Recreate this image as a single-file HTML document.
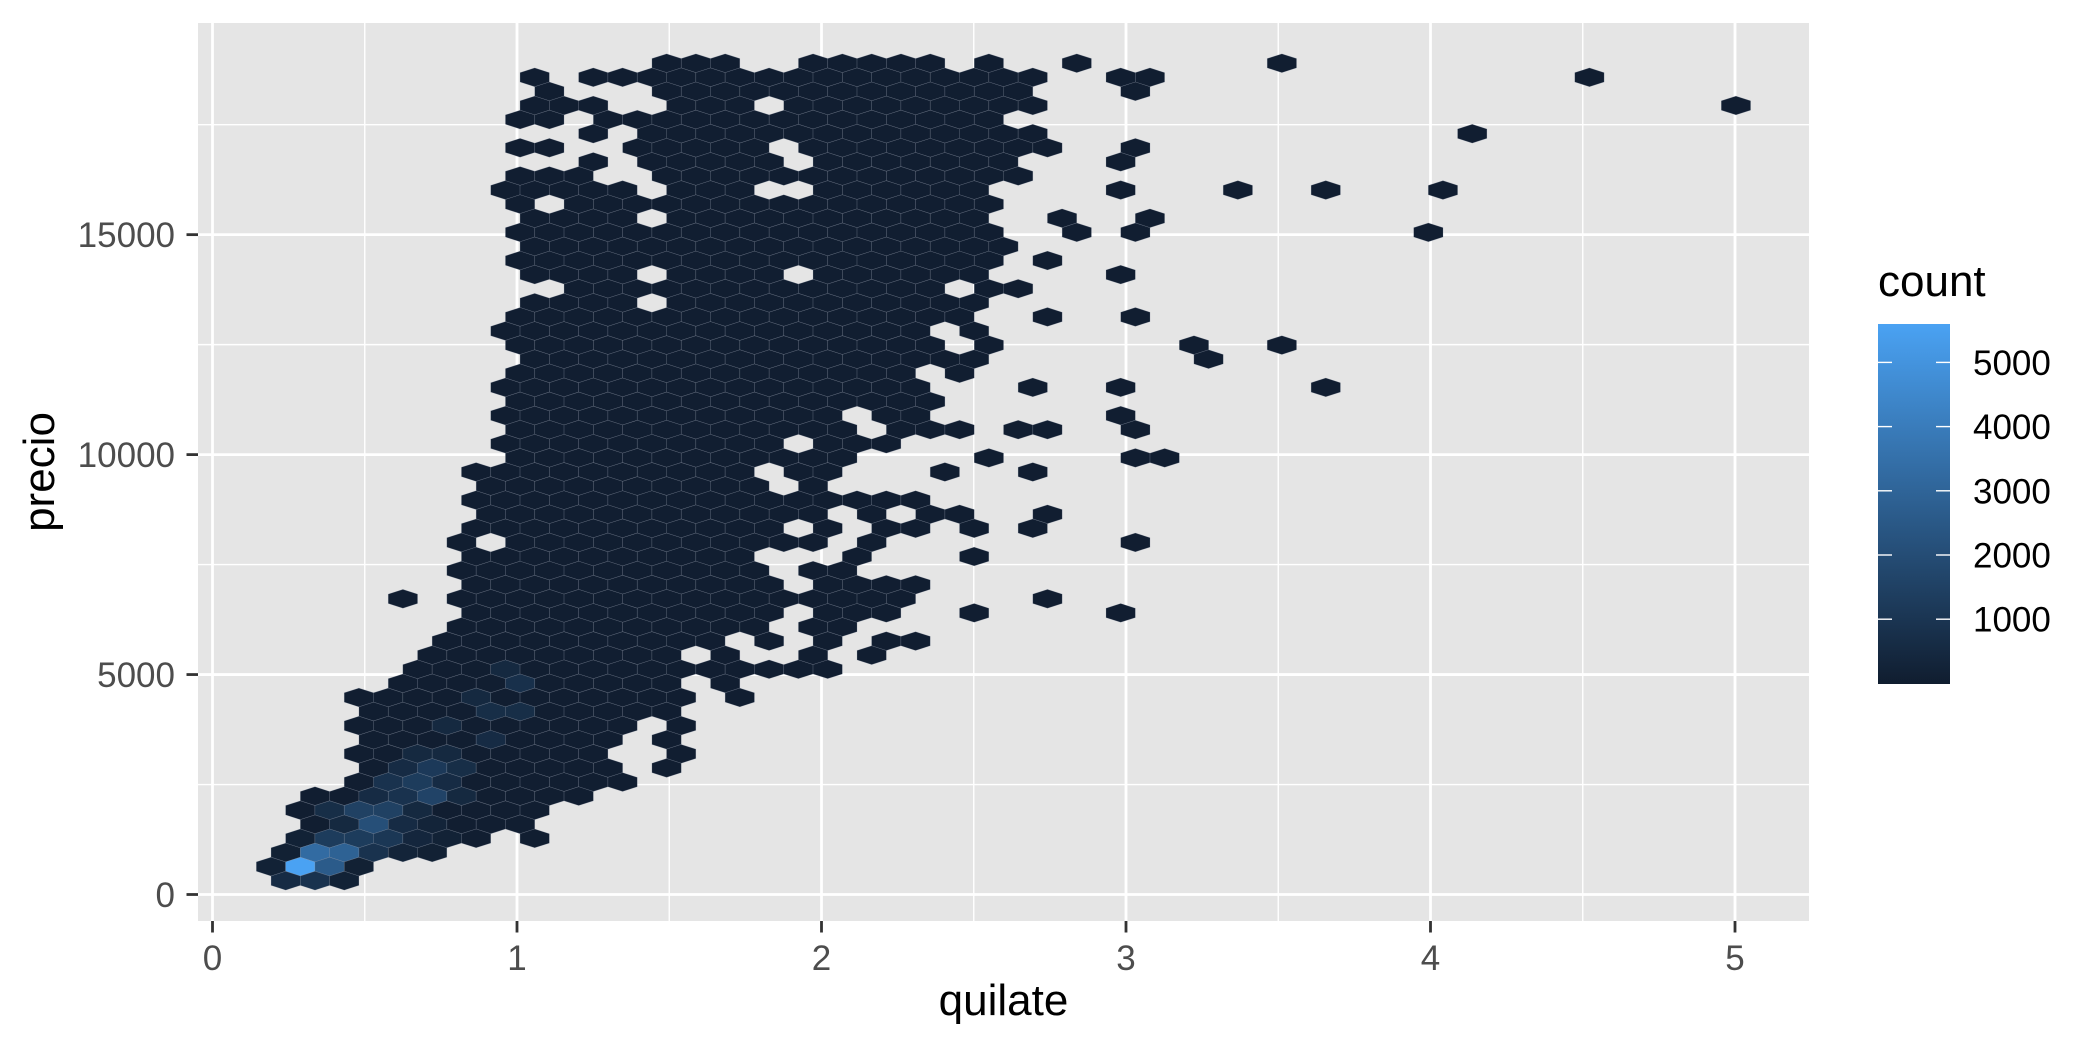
<!DOCTYPE html>
<html><head><meta charset="utf-8">
<style>
html,body{margin:0;padding:0;background:#fff;}
svg{display:block;font-family:"Liberation Sans",Arial,sans-serif;}
</style></head>
<body>
<svg id="chart" width="2100" height="1050" viewBox="0 0 2100 1050" xmlns="http://www.w3.org/2000/svg">
  <defs>
    <linearGradient id="legendGrad" x1="0" y1="1" x2="0" y2="0">
      <stop offset="0" stop-color="#101D2F"/>
      <stop offset="1" stop-color="#4AA2F3"/>
    </linearGradient>
  </defs>
  <rect x="198" y="23" width="1611" height="898" fill="#E5E5E5"/>
  <g id="grid"></g>
  <g id="hexes"></g>
  <g id="axes"></g>
  <text x="1003.5" y="1015" font-size="44" text-anchor="middle" fill="#000">quilate</text>
  <text transform="translate(54,472) rotate(-90)" font-size="44" text-anchor="middle" fill="#000">precio</text>
  <g id="legend">
    <text x="1878" y="296" font-size="44" fill="#000">count</text>
    <rect x="1878" y="324" width="72" height="360" fill="url(#legendGrad)"/>
  </g>
</svg>
<script>
// ---- data ----
const xTicks = [0, 1, 2, 3, 4, 5];
const xTickLabels = ["0", "1", "2", "3", "4", "5"];
const xMinor = [0.5, 1.5, 2.5, 3.5, 4.5];
const yTicks = [0, 5000, 10000, 15000];
const yTickLabels = ["0", "5000", "10000", "15000"];
const yMinor = [2500, 7500, 12500, 17500];
const legendTicks = [1000, 2000, 3000, 4000, 5000];
const legendTickLabels = ["1000", "2000", "3000", "4000", "5000"];
const countMin = 1;
const countMax = 5600;

// hex bin grid: row index j -> price, column k -> carat
const binW = 0.09622;
const binH = 320.4;
const caratOddStart = 0.1921;
const caratEvenStart = 0.2404;
const priceStart = 313.7;

const hexRowSpecs = [
"58:13-15,18-22,24,27,34",
"57:9,11-26,29,30,45",
"56:9,13-25,29",
"55:9-11,14-16,18-26,50",
"54:8,9,11-24",
"53:11,13-26,41",
"52:8,9,12-16,18-26,29",
"51:11,13-17,19-25,29",
"50:8-10,13-25",
"49:8-12,14-16,19-24,29,33,36,40",
"48:8,10-24",
"47:9-12,14-24,27,30",
"46:8-24,27,29,39",
"45:9-25",
"44:8-24,26",
"43:9-12,14-17,19-24,29",
"42:10-22,24,25",
"41:9-12,14-24",
"40:8-23,26,29",
"39:8-22,24",
"38:8-22,24,31,34",
"37:9-24,32",
"36:8-21,23",
"35:8-22,26,29,36",
"34:8-22",
"33:8-19,21,22,29",
"32:8-19,21-23,25,26,29",
"31:8-17,19-21",
"30:8-19,24,29,30",
"29:7-16,18,19,23,26",
"28:7-16,18",
"27:7-22",
"26:7-18,20,22,23,26",
"25:7-17,19,21,22,24,26",
"24:6,8-18,20,29",
"23:7-16,20,24",
"22:6-16,18,19",
"21:7-17,19-22",
"20:4,6-21,26",
"19:7-17,19-21,24,29",
"18:6-16,18,19",
"17:6-15,17,19,21,22",
"16:5-13,15,18,20",
"15:5-19",
"14:4-13,15",
"13:3-14,16",
"12:3-13",
"11:3-12,14",
"10:3-11,13",
"9:3-11,14",
"8:3-11,13",
"7:3-12",
"6:1-10",
"5:1-9",
"4:1-8",
"3:1-7,9",
"2:0-5",
"1:0-3",
"0:0-2"
];
const hexCountOverrides = [
"0,0,600","0,1,900","0,2,200",
"1,0,200","1,1,5600","1,2,2600","1,3,150",
"2,0,150","2,1,3300","2,2,2900","2,3,900","2,4,300","2,5,150",
"3,1,200","3,2,1300","3,3,1300","3,4,1100","3,5,400","3,6,200",
"4,2,500","4,3,2100","4,4,600","4,5,300",
"5,2,700","5,3,1500","5,4,1500","5,5,500",
"6,3,600","6,4,900","6,5,1600","6,6,500",
"7,4,900","7,5,1300","7,6,600",
"8,4,600","8,5,1200","8,6,700",
"9,5,500","9,6,500","10,7,600","11,6,500",
"12,7,700","12,8,700","13,7,500","14,8,800","15,8,500"
];
const hexDefaultCount = 60;

const hexCarat = [];
const hexPrice = [];
const hexCount = [];
const overrideMap = {};
for (const s of hexCountOverrides) { const p = s.split(","); overrideMap[p[0] + "," + p[1]] = +p[2]; }
for (const spec of hexRowSpecs) {
  const parts = spec.split(":");
  const j = +parts[0];
  for (const r of parts[1].split(",")) {
    const ab = r.split("-").map(Number);
    const a = ab[0], b = ab.length > 1 ? ab[1] : ab[0];
    for (let k = a; k <= b; k++) {
      hexCarat.push((j % 2 === 0 ? caratEvenStart : caratOddStart) + k * binW);
      hexPrice.push(priceStart + j * binH);
      const key = j + "," + k;
      hexCount.push(overrideMap[key] !== undefined ? overrideMap[key] : hexDefaultCount);
    }
  }
}

// ---- scales ----
const PANEL = {left: 198, right: 1809, top: 23, bottom: 921};
function xScale(c) { return 212.5 + 304.5 * c; }
function yScale(p) { return 894.5 - 0.04399 * p; }
function legendY(c) { return 683.4 - 0.0642 * c; }
const lowRGB = [16, 29, 47], highRGB = [74, 162, 243];
function colorFor(n) {
  let t = (n - countMin) / (countMax - countMin);
  t = Math.max(0, Math.min(1, t));
  const c = lowRGB.map((v, i) => Math.round(v + (highRGB[i] - v) * t));
  return "rgb(" + c.join(",") + ")";
}

const NS = "http://www.w3.org/2000/svg";
function mk(tag, attrs, parent) {
  const e = document.createElementNS(NS, tag);
  for (const k in attrs) e.setAttribute(k, attrs[k]);
  parent.appendChild(e);
  return e;
}

// ---- grid ----
const grid = document.getElementById("grid");
for (const v of xMinor) {
  const l = mk("line", {x1: xScale(v), x2: xScale(v), y1: PANEL.top, y2: PANEL.bottom, stroke: "#fff", "stroke-width": 1.4}, grid);
  
  
}
for (const v of yMinor) {
  const l = mk("line", {x1: PANEL.left, x2: PANEL.right, y1: yScale(v), y2: yScale(v), stroke: "#fff", "stroke-width": 1.4}, grid);
  
  
}
for (const v of xTicks) {
  const l = mk("line", {x1: xScale(v), x2: xScale(v), y1: PANEL.top, y2: PANEL.bottom, stroke: "#fff", "stroke-width": 2.8}, grid);
  
  
}
for (const v of yTicks) {
  const l = mk("line", {x1: PANEL.left, x2: PANEL.right, y1: yScale(v), y2: yScale(v), stroke: "#fff", "stroke-width": 2.8}, grid);
  
  
}

// ---- hexes ----
const hexG = document.getElementById("hexes");
for (let i = 0; i < hexCarat.length; i++) {
  const cx = xScale(hexCarat[i]), cy = yScale(hexPrice[i]);
  const hw = xScale(hexCarat[i] + binW / 2) - cx;
  const hTop = cy - yScale(hexPrice[i] + binH * 2 / 3);
  const hSide = hTop / 2;
  const pts = [[cx, cy - hTop], [cx + hw, cy - hSide], [cx + hw, cy + hSide], [cx, cy + hTop], [cx - hw, cy + hSide], [cx - hw, cy - hSide]]
    .map(p => p[0].toFixed(2) + "," + p[1].toFixed(2)).join(" ");
  const h = mk("polygon", {points: pts, fill: colorFor(hexCount[i]), stroke: "rgba(140,150,165,0.35)", "stroke-width": 0.6}, hexG);
  
  
}

// ---- axes ----
const axes = document.getElementById("axes");
xTicks.forEach((v, i) => {
  const t = mk("line", {x1: xScale(v), x2: xScale(v), y1: PANEL.bottom, y2: PANEL.bottom + 11.5, stroke: "#333", "stroke-width": 2.8}, axes);
  
  
  const lb = mk("text", {x: xScale(v), y: 970, "font-size": 35, "text-anchor": "middle", fill: "#4D4D4D"}, axes);
  lb.textContent = xTickLabels[i];
  
  
});
yTicks.forEach((v, i) => {
  const t = mk("line", {x1: PANEL.left - 11.5, x2: PANEL.left, y1: yScale(v), y2: yScale(v), stroke: "#333", "stroke-width": 2.8}, axes);
  
  
  const lb = mk("text", {x: 175, y: yScale(v) + 12.5, "font-size": 35, "text-anchor": "end", fill: "#4D4D4D"}, axes);
  lb.textContent = yTickLabels[i];
  
  
});

// ---- legend ----
const leg = document.getElementById("legend");
legendTicks.forEach((v, i) => {
  const y = legendY(v);
  const a = mk("line", {x1: 1878, x2: 1892, y1: y, y2: y, stroke: "#fff", "stroke-width": 1.4}, leg);
  
  
  const b = mk("line", {x1: 1936, x2: 1950, y1: y, y2: y, stroke: "#fff", "stroke-width": 1.4}, leg);
  
  
  const lb = mk("text", {x: 1973, y: y + 12.5, "font-size": 35, fill: "#000"}, leg);
  lb.textContent = legendTickLabels[i];
  
  
});
</script>
</body></html>
